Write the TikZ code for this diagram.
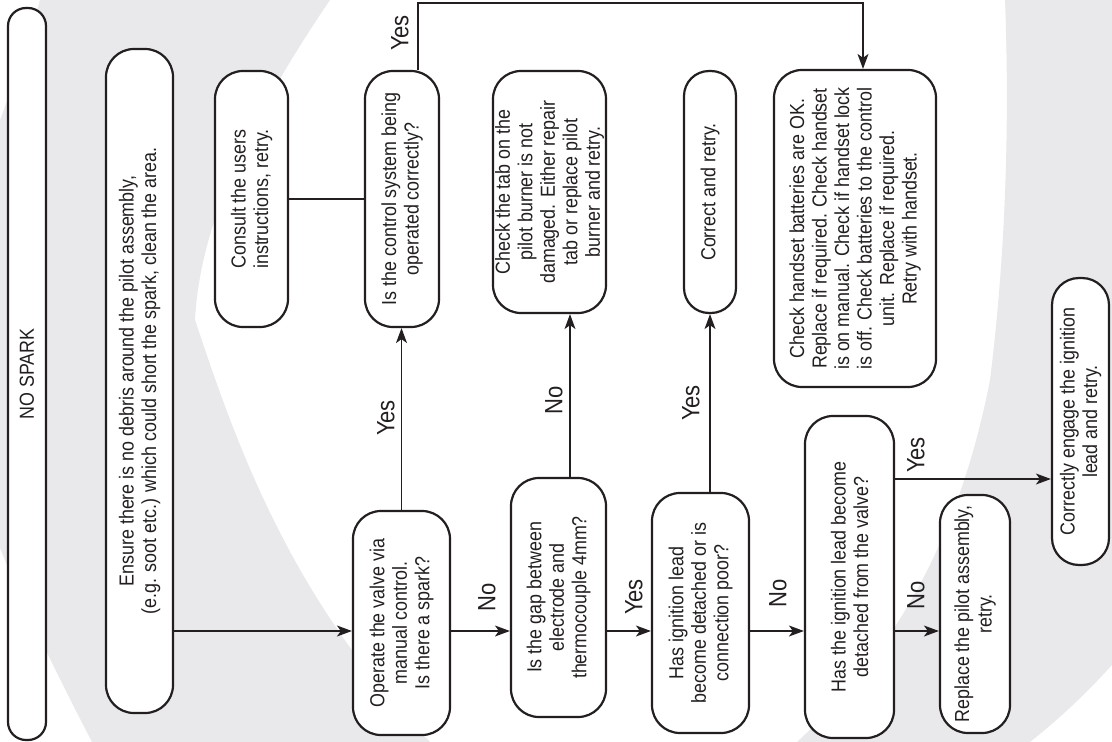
\documentclass[tikz,border=0pt]{standalone}
\usepackage{fontspec}
\setmainfont{Liberation Sans}[FakeStretch=0.88]
\usepackage{tikz}
\usetikzlibrary{calc,arrows.meta}
\definecolor{wmgrey}{HTML}{E9E9EC}
\definecolor{inkblack}{HTML}{231F20}
\newcommand{\chartfont}{\fontsize{20.3}{22.5}\selectfont}
\newcommand{\yesnofont}{\fontsize{25}{27}\selectfont}
\tikzset{
  flowbox/.style={draw=inkblack, fill=white, line width=2.2pt, rounded corners=28pt,
                  rotate=90, align=center, inner sep=0pt, font=\chartfont, text=inkblack},
  flowline/.style={line width=1.4pt, draw=inkblack},
  flowarrow/.style={flowline, -{Stealth[length=15pt, width=11pt, inset=4pt]}},
  branch/.style={rotate=90, inner sep=0pt, font=\yesnofont, text=inkblack}
}

\begin{document}
\begin{tikzpicture}[x=1pt, y=-1pt]
  \useasboundingbox (0,0) rectangle (1112,742);
  \fill[white] (0,0) rectangle (1112,742);
  % watermark
  \fill[wmgrey] (40,0) -- (330,0) .. controls (255,110) and (200,220) .. (195,320)
    .. controls (235,440) and (290,600) .. (430,742) -- (92,742)
    .. controls (60,680) and (25,610) .. (0,548) -- (0,120)
    .. controls (15,80) and (30,40) .. (40,0) -- cycle;
  \fill[wmgrey] (1005,0) -- (1112,0) -- (1112,665)
    .. controls (1080,700) and (1055,722) .. (1030,742) -- (797,742)
    .. controls (880,665) and (955,560) .. (990,380)
    .. controls (1005,260) and (1010,130) .. (1005,0) -- cycle;

  \node[flowbox, minimum width=732pt, minimum height=38pt, rounded corners=18pt] (nospark) at (27,374) {NO SPARK};
  \node[flowbox, minimum width=664pt, minimum height=67pt] (ensure) at (139.5,381)
    {Ensure there is no debris around the pilot assembly,\\(e.g. soot etc.) which could short the spark, clean the area.};
  \node[flowbox, minimum width=256pt, minimum height=73pt] (consult) at (251.5,199)
    {Consult the users\\instructions, retry.};
  \node[flowbox, minimum width=256pt, minimum height=74pt] (control) at (402,199)
    {Is the control system being\\operated correctly?};
  \node[flowbox, minimum width=224pt, minimum height=97pt] (operate) at (401.5,623)
    {Operate the valve via\\manual control.\\Is there a spark?};
  \node[flowbox, minimum width=242pt, minimum height=113pt] (checktab) at (549.5,192)
    {Check the tab on the\\pilot burner is not\\damaged. Either repair\\tab or replace pilot\\burner and retry.};
  \node[flowbox, minimum width=239pt, minimum height=95pt] (gap) at (558.5,597.5)
    {Is the gap between\\electrode and\\thermocouple 4mm?};
  \node[flowbox, minimum width=242pt, minimum height=52pt, rounded corners=25pt] (correct) at (710,192)
    {Correct and retry.};
  \node[flowbox, minimum width=240pt, minimum height=97pt] (haslead) at (700.5,613)
    {Has ignition lead\\become detached or is\\connection poor?};
  \node[flowbox, minimum width=317pt, minimum height=162pt] (handset) at (855,228.5)
    {Check handset batteries are OK.\\Replace if required. Check handset\\is on manual. Check if handset lock\\is off. Check batteries to the control\\unit. Replace if required.\\Retry with handset.};
  \node[flowbox, minimum width=322pt, minimum height=89pt] (detached) at (849.5,577)
    {Has the ignition lead become\\detached from the valve?};
  \node[flowbox, minimum width=238pt, minimum height=70pt] (replace) at (975,614)
    {Replace the pilot assembly,\\retry.};
  \node[flowbox, minimum width=287pt, minimum height=57pt, rounded corners=27pt] (engage) at (1080.5,421.5)
    {Correctly engage the ignition\\lead and retry.};

  \node[branch] (yestop) at (400,33) {Yes};
  \node[branch] (yesspark) at (386,418) {Yes};
  \node[branch] (notab) at (554,400) {No};
  \node[branch] (yescorrect) at (691,403) {Yes};
  \node[branch] (nospk) at (487,597) {No};
  \node[branch] (yesgap) at (634,597) {Yes};
  \node[branch] (nolead) at (778,593) {No};
  \node[branch] (noreplace) at (916,595) {No};
  \node[branch] (yesengage) at (916,455) {Yes};

  \coordinate (mainrow) at (0,631);
  \coordinate (yesrow) at (0,479);
  \coordinate (toprow) at (0,3);
  \coordinate (yescol) at (418,0);
  \coordinate (tabcol) at (570,0);
  \coordinate (setcol) at (863,0);

  \draw[flowarrow] (ensure.south |- mainrow) -- (operate.north |- mainrow);
  \draw[flowarrow] (operate.south |- mainrow) -- (gap.north |- mainrow);
  \draw[flowarrow] (gap.south |- mainrow) -- (haslead.north |- mainrow);
  \draw[flowarrow] (haslead.south |- mainrow) -- (detached.north |- mainrow);
  \draw[flowarrow] (detached.south |- mainrow) -- (replace.north |- mainrow);
  \draw[flowarrow] (detached.south |- yesrow) -- (engage.north |- yesrow);
  \draw[flowarrow] (operate.east) -- (operate.east |- control.west);
  \draw[flowarrow] (gap.east -| tabcol) -- (checktab.west -| tabcol);
  \draw[flowarrow] (correct.west |- haslead.east) -- (correct.west);
  \draw[flowline] (consult.south) -- (control.north);
  \draw[flowarrow] (control.east -| yescol) -- (yescol |- toprow) -- (toprow -| setcol) -- (handset.east -| setcol);
\end{tikzpicture}
\end{document}
